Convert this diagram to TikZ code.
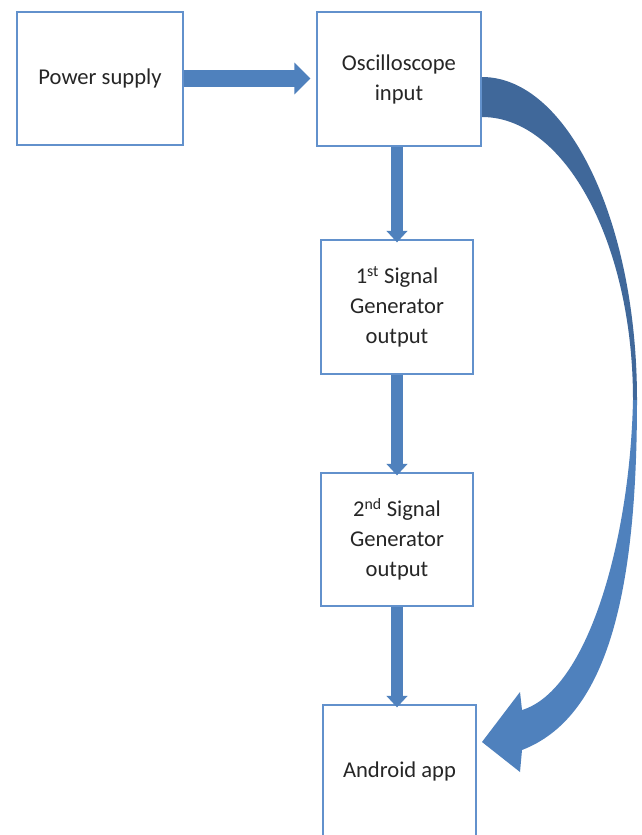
\documentclass[tikz,border=0pt]{standalone}
\usepackage{fontspec}
\setmainfont{Carlito}
\usetikzlibrary{arrows.meta}

\definecolor{boxblue}{RGB}{98,145,204}
\definecolor{arrowblue}{RGB}{79,129,189}
\definecolor{arrowdark}{RGB}{64,104,154}

\tikzset{
  box/.style={draw=boxblue, line width=1.3pt, fill=white, align=center,
    inner sep=0pt, text=black!85},
  blockarrow/.style={draw=arrowblue, line width=11.6pt,
    -{Triangle[width=20.7pt,length=11.6pt]}},
}

\begin{document}
\begin{tikzpicture}[x=1pt,y=-1pt]
\clip (0,0) rectangle (641,835);
\fill[white] (0,0) rectangle (641,835);
\fontsize{22.6}{30}\selectfont

\node[box, minimum width=166pt, minimum height=133pt] (psu) at (100,78.5) {Power supply};
\node[box, minimum width=164pt, minimum height=134pt] (osc) at (399,79) {Oscilloscope\\input};
\node[box, minimum width=152pt, minimum height=134pt] (sig1) at (397,307) {1\textsuperscript{st} Signal\\Generator\\output};
\node[box, minimum width=152pt, minimum height=133pt] (sig2) at (397,539.5) {2\textsuperscript{nd} Signal\\Generator\\output};
\node[box, minimum width=153pt, minimum height=133pt] (app) at (399.5,771.5) {Android app};

\draw[blockarrow, line width=17pt, -{Triangle[width=31pt,length=16pt]}, shorten >=6pt]
  (psu.east) -- (psu.east -| osc.west);
\draw[blockarrow, shorten >=-3pt] (sig1.north |- osc.south) -- (sig1.north);
\draw[blockarrow, shorten >=-3pt] (sig1.south) -- (sig2.north);
\draw[blockarrow, shorten >=-3pt] (sig2.south) -- (sig2.south |- app.north);

% curved arrow, back part
\fill[arrowdark] (482,77) arc[start angle=-90, end angle=0, x radius=155, y radius=323]
  -- (633,400) arc[start angle=0, end angle=-90, x radius=151, y radius=283] -- cycle;
% curved arrow, front part with head
\fill[arrowblue] (637,400) .. controls (637,600) and (605,718) .. (522,750)
  -- (520,772) -- (482,742) -- (520,692) -- (522,710)
  .. controls (588,690) and (630,540) .. (633,400) -- cycle;
\end{tikzpicture}
\end{document}
